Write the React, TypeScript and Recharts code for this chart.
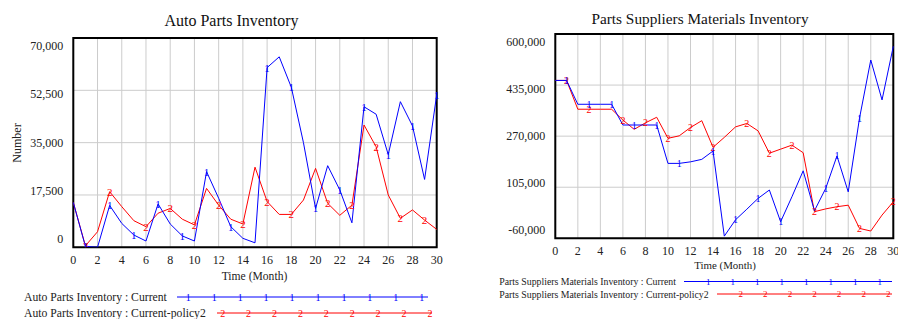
import React from "react";
import { LineChart, Line, XAxis, YAxis, CartesianGrid, ReferenceArea } from "recharts";

const months = [0, 1, 2, 3, 4, 5, 6, 7, 8, 9, 10, 11, 12, 13, 14, 15, 16, 17, 18, 19, 20, 21, 22, 23, 24, 25, 26, 27, 28, 29, 30];
const monthTicks = [0, 2, 4, 6, 8, 10, 12, 14, 16, 18, 20, 22, 24, 26, 28, 30];

// Auto Parts Inventory
const apiCurrent = [15000, 300, 0, 14000, 8000, 4100, 2100, 14500, 7800, 3800, 2100, 25300, 16400, 6900, 3000, 1500, 60100, 63700, 53500, 35000, 13000, 27300, 19200, 8200, 47000, 44500, 31000, 48700, 40600, 22700, 51000];
const apiPolicy2 = [15000, 500, 5200, 18600, 13600, 8900, 6900, 11400, 13000, 9400, 7500, 19700, 14100, 9400, 7800, 26800, 15300, 11000, 11000, 15800, 26400, 14700, 10700, 14100, 40900, 33600, 17500, 9700, 12500, 9100, 6000];
const apiTicks = [0, 17500, 35000, 52500, 70000];
const apiCurrentMarks = [1, 3, 5, 7, 9, 11, 13, 16, 18, 20, 22, 24, 26, 28, 30];
const apiPolicy2Marks = [1, 3, 6, 8, 10, 12, 14, 16, 18, 21, 23, 25, 27, 29];
const apiLegend = ["Auto Parts Inventory : Current", "Auto Parts Inventory : Current-policy2"];

// Parts Suppliers Materials Inventory
const psmCurrent = [450000, 450000, 373000, 373000, 373000, 373000, 306000, 306000, 306000, 306000, 182000, 182000, 187000, 195000, 222000, -53000, 0, 34000, 69000, 96000, -6500, 74000, 158000, 29000, 101000, 206000, 90000, 328000, 516000, 387000, 560000];
const psmPolicy2 = [450000, 450000, 357000, 357000, 357000, 357000, 322000, 292000, 313000, 331000, 263000, 271000, 298000, 320000, 234000, 266000, 300000, 311000, 287000, 215000, 228000, 241000, 216500, 26000, 35000, 42000, 47000, -28000, -36500, 15000, 58000];
const psmTicks = [-60000, 105000, 270000, 435000, 600000];
const psmCurrentMarks = [1, 3, 5, 7, 9, 11, 14, 16, 18, 20, 24, 25, 27];
const psmPolicy2Marks = [1, 3, 6, 8, 10, 12, 14, 17, 19, 21, 23, 25, 27, 30];
const psmLegend = ["Parts Suppliers Materials Inventory : Current", "Parts Suppliers Materials Inventory : Current-policy2"];

const titles = ["Auto Parts Inventory", "Parts Suppliers Materials Inventory"];
const xLabel = "Time (Month)";
const yLabel = "Number";

const SERIF = '"Liberation Serif", "Times New Roman", serif';
const BLUE = "#0000ff";
const RED = "#ff0000";
const fmt = (v: number) => v.toLocaleString("en-US");

type PanelProps = {
  left: number;
  margin: { top: number; right: number; bottom: number; left: number };
  yTicks: number[];
  current: number[];
  policy2: number[];
  curMarks: number[];
  polMarks: number[];
  markSize: number;
};

function makeDot(marks: number[], label: string, color: string, size: number) {
  return (props: any) => {
    const { cx, cy, index } = props;
    if (!marks.includes(index) || cx == null || cy == null) return <g key={`d${label}${index}`} />;
    return (
      <text
        key={`d${label}${index}`}
        x={cx}
        y={cy}
        textAnchor="middle"
        dominantBaseline="central"
        fontSize={size}
        fontFamily={SERIF}
        fill={color}
      >
        {label}
      </text>
    );
  };
}

function makeYTick(min: number, max: number) {
  return (props: any) => {
    const { x, y, payload } = props;
    const frac = (payload.value - min) / (max - min);
    const off = 16 * frac - 8;
    return (
      <text x={x - 2} y={y + off} textAnchor="end" dominantBaseline="central" fontSize={12} fontFamily={SERIF} fill="#222">
        {fmt(payload.value)}
      </text>
    );
  };
}

function Panel({ left, margin, yTicks, current, policy2, curMarks, polMarks, markSize }: PanelProps) {
  const data = months.map((m, i) => ({ month: m, current: current[i], policy2: policy2[i] }));
  const yMin = yTicks[0];
  const yMax = yTicks[yTicks.length - 1];
  return (
    <div style={{ position: "absolute", left, top: 0 }}>
      <LineChart width={449} height={319} data={data} margin={margin}>
        <CartesianGrid stroke="#cccccc" strokeWidth={1} />
        <XAxis
          dataKey="month"
          type="number"
          domain={[0, 30]}
          ticks={monthTicks}
          interval={0}
          axisLine={false}
          tickLine={false}
          height={30}
          tick={{ fontSize: 12, fill: "#222", fontFamily: SERIF }}
        />
        <YAxis
          type="number"
          domain={[yMin, yMax]}
          ticks={yTicks}
          interval={0}
          allowDataOverflow
          axisLine={false}
          tickLine={false}
          width={60}
          tick={makeYTick(yMin, yMax)}
        />
        <ReferenceArea x1={0} x2={30} y1={yMin} y2={yMax} fill="none" stroke="#000" strokeWidth={2} fillOpacity={0} />
        <Line
          type="linear"
          dataKey="policy2"
          stroke={RED}
          strokeWidth={1}
          isAnimationActive={false}
          dot={makeDot(polMarks, "2", RED, markSize)}
          activeDot={false}
        />
        <Line
          type="linear"
          dataKey="current"
          stroke={BLUE}
          strokeWidth={1}
          isAnimationActive={false}
          dot={makeDot(curMarks, "1", BLUE, markSize)}
          activeDot={false}
        />
      </LineChart>
    </div>
  );
}

type LegendRow = { text: string; tx: number; y: number; x1: number; x2: number; marks: number[]; label: string; color: string };

function LegendRows({ rows, fontSize, markSize }: { rows: LegendRow[]; fontSize: number; markSize: number }) {
  return (
    <g>
      {rows.map((r, i) => (
        <g key={i}>
          <text x={r.tx} y={r.y} dominantBaseline="central" fontSize={fontSize} fontFamily={SERIF} fill="#222">
            {r.text}
          </text>
          <line x1={r.x1} x2={r.x2} y1={r.y} y2={r.y} stroke={r.color} strokeWidth={1} />
          {r.marks.map((mx, j) => (
            <text key={j} x={mx} y={r.y} textAnchor="middle" dominantBaseline="central" fontSize={markSize} fontFamily={SERIF} fill={r.color}>
              {r.label}
            </text>
          ))}
        </g>
      ))}
    </g>
  );
}

const seq = (start: number, step: number, n: number) => Array.from({ length: n }, (_, i) => start + i * step);

export default function App() {
  const leftRows: LegendRow[] = [
    { text: apiLegend[0], tx: 24, y: 297, x1: 177, x2: 428, marks: seq(188.3, 25.93, 10), label: "1", color: BLUE },
    { text: apiLegend[1], tx: 24, y: 313, x1: 217, x2: 432, marks: seq(222.7, 25.9, 9), label: "2", color: RED },
  ];
  const rightRows: LegendRow[] = [
    { text: psmLegend[0], tx: 499.3, y: 281.5, x1: 684, x2: 892, marks: seq(708.3, 24.5, 8), label: "1", color: BLUE },
    { text: psmLegend[1], tx: 499.3, y: 294, x1: 717, x2: 892, marks: seq(740.7, 24.6, 7), label: "2", color: RED },
  ];
  return (
    <div style={{ position: "fixed", left: 0, top: 0, width: 898, height: 319, background: "#fff", overflow: "hidden" }}>
      <Panel
        left={0}
        margin={{ top: 38, right: 12.3, bottom: 41.7, left: 13.3 }}
        yTicks={apiTicks}
        current={apiCurrent}
        policy2={apiPolicy2}
        curMarks={apiCurrentMarks}
        polMarks={apiPolicy2Marks}
        markSize={11}
      />
      <Panel
        left={449}
        margin={{ top: 34, right: 4.7, bottom: 50.7, left: 46.3 }}
        yTicks={psmTicks}
        current={psmCurrent}
        policy2={psmPolicy2}
        curMarks={psmCurrentMarks}
        polMarks={psmPolicy2Marks}
        markSize={10}
      />
      <svg width={898} height={319} style={{ position: "absolute", left: 0, top: 0, pointerEvents: "none" }}>
        <text x={231.5} y={20} textAnchor="middle" dominantBaseline="central" fontSize={16} fontFamily={SERIF} fill="#111">
          {titles[0]}
        </text>
        <text x={700} y={18} textAnchor="middle" dominantBaseline="central" fontSize={15.3} fontFamily={SERIF} fill="#111">
          {titles[1]}
        </text>
        <text x={254.5} y={276} textAnchor="middle" dominantBaseline="central" fontSize={11.6} fontFamily={SERIF} fill="#222">
          {xLabel}
        </text>
        <text x={725} y={265} textAnchor="middle" dominantBaseline="central" fontSize={10.9} fontFamily={SERIF} fill="#222">
          {xLabel}
        </text>
        <text
          x={17}
          y={143}
          textAnchor="middle"
          dominantBaseline="central"
          fontSize={12}
          fontFamily={SERIF}
          fill="#222"
          transform="rotate(-90 17 143)"
        >
          {yLabel}
        </text>
        <LegendRows rows={leftRows} fontSize={11.7} markSize={10} />
        <LegendRows rows={rightRows} fontSize={9.8} markSize={9} />
      </svg>
    </div>
  );
}
